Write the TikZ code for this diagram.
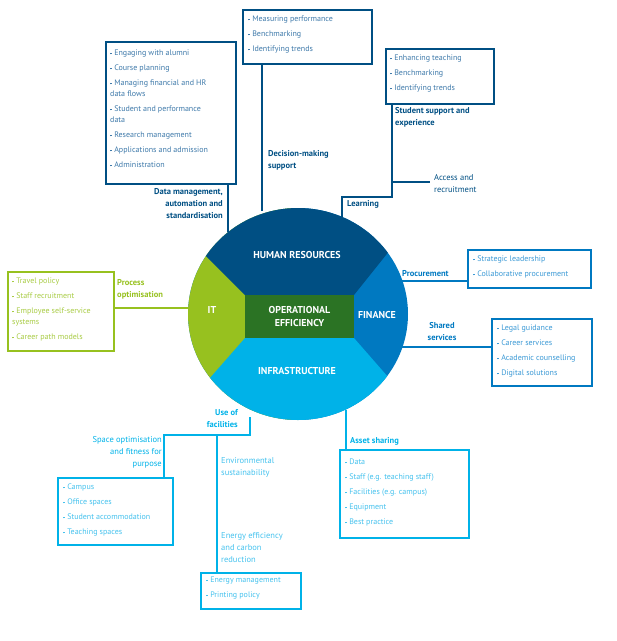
\documentclass[tikz,border=0pt]{standalone}
\usepackage{fontspec}
\setmainfont{PT Sans}
\begin{document}
\definecolor{hr}{HTML}{004F83}
\definecolor{fin}{HTML}{0079C1}
\definecolor{inf}{HTML}{00B2E8}
\definecolor{itg}{HTML}{97C11F}
\definecolor{oe}{HTML}{2B7324}
\definecolor{hrt}{HTML}{3F7AAA}
\definecolor{fint}{HTML}{3C9AD6}
\definecolor{inft}{HTML}{45C2EE}
\definecolor{itt}{HTML}{A9CC45}
\newcommand{\bl}{\rule[1.6pt]{1.6pt}{1.6pt}\hspace{2.5pt}}
\begin{tikzpicture}[x=1pt,y=-1pt,
  box/.style={draw=#1,line width=1.8pt,anchor=north west,inner sep=0pt,fill=white},
  bt/.style={anchor=north west,inner sep=0pt,align=left,font=\fontsize{8}{11}\selectfont},
  lab/.style={inner sep=0pt,font=\fontsize{8.5}{12}\selectfont\bfseries},
  con/.style={draw=#1,line width=1.8pt},
  seg/.style={font=\fontsize{10}{13}\selectfont\bfseries,text=white,inner sep=0pt,align=center}]
\useasboundingbox (0,0) rectangle (617,641);
% circle
\begin{scope}
\clip (298,314) ellipse [x radius=110, y radius=106];
\fill[fin] (150,150) rectangle (450,480);
\fill[itg] (150,150) rectangle (298,480);
\fill[hr] (150,200) -- (245,295) -- (354,295) -- (430,200) -- (430,150) -- (150,150) -- cycle;
\fill[inf] (245,338) -- (354,338) -- (430,425) -- (430,480) -- (150,480) -- (160,435) -- cycle;
\end{scope}
\node[fill=oe,minimum width=109pt,minimum height=43pt,anchor=north west,inner sep=0pt] (oe) at (245,295) {};
\node[seg] (oet) at (299.5,316.5) {OPERATIONAL\\EFFICIENCY};
\node[seg] (hrl) at (297,255) {HUMAN RESOURCES};
\node[seg] (finl) at (377,315) {FINANCE};
\node[seg] (itl) at (212,310) {IT};
\node[seg] (infl) at (297,371) {INFRASTRUCTURE};
% circle contact coordinates
\coordinate (cDM) at (228,232);
\coordinate (cDS) at (262,211);
\coordinate (cL) at (342,218);
\coordinate (cPr) at (392,281);
\coordinate (cSh) at (402,347);
\coordinate (cPO) at (189,308);
\coordinate (cUF) at (250,417);
\coordinate (cAS) at (346,410);
% HR boxes
\node[box=hr,minimum width=130pt,minimum height=142pt] (bDM) at (105,41) {};
\node[bt,text=hrt] (tDM) at (110,50) {\bl Engaging with alumni\\[4pt]\bl Course planning\\[4pt]\bl Managing financial and HR\\data flows\\[4pt]\bl Student and performance\\data\\[4pt]\bl Research management\\[4pt]\bl Applications and admission\\[4pt]\bl Administration};
\node[box=hr,minimum width=129pt,minimum height=54pt] (bDS) at (242,9) {};
\node[bt,text=hrt] (tDS) at (248,16) {\bl Measuring performance\\[4pt]\bl Benchmarking\\[4pt]\bl Identifying trends};
\node[box=hr,minimum width=108pt,minimum height=55pt] (bSS) at (385,48) {};
\node[bt,text=hrt] (tSS) at (390,55) {\bl Enhancing teaching\\[4pt]\bl Benchmarking\\[4pt]\bl Identifying trends};
\draw[con=hr] (bDM.south east -| cDM) -- (cDM);
\draw[con=hr] (bDS.south -| cDS) -- (cDS);
\coordinate (j1) at (392,182);
\coordinate (j2) at (392,197);
\coordinate (j3) at (342,197);
\coordinate (jA) at (430,182);
\draw[con=hr] (bSS.south -| j1) -- (j1) -- (jA);
\draw[con=hr] (j1) -- (j2) -- (j3) -- (cL);
\node[lab,text=hr,align=right,anchor=north east] (lDM) at (223,188) {Data management,\\automation and\\standardisation};
\node[lab,text=hr,align=left,anchor=north west] (lDS) at (268,150) {Decision-making\\support};
\node[lab,text=hr,align=left,anchor=north west] (lSS) at (395,107) {Student support and\\experience};
\node[lab,text=hr,align=left,anchor=north west,font=\fontsize{8.5}{12}\selectfont] (lAR) at (434,174) {Access and\\recruitment};
\node[lab,text=hr,anchor=north west] (lL) at (347,200) {Learning};
% Finance
\node[box=fin,minimum width=123pt,minimum height=38pt] (bPr) at (467,249) {};
\node[bt,text=fint] (tPr) at (473,256) {\bl Strategic leadership\\[4pt]\bl Collaborative procurement};
\node[box=fin,minimum width=100pt,minimum height=67pt] (bSh) at (491,318) {};
\node[bt,text=fint] (tSh) at (497,325) {\bl Legal guidance\\[4pt]\bl Career services\\[4pt]\bl Academic counselling\\[4pt]\bl Digital solutions};
\draw[con=fin] (cPr) -- (bPr.west |- cPr);
\draw[con=fin] (cSh) -- (bSh.west |- cSh);
\node[lab,text=fin,anchor=south west] (lPr) at (402,277) {Procurement};
\node[lab,text=fin,align=center] (lSh) at (442,332) {Shared\\services};
% IT
\node[box=itg,minimum width=106pt,minimum height=79pt] (bPO) at (7,271) {};
\node[bt,text=itt] (tPO) at (12,278) {\bl Travel policy\\[4pt]\bl Staff recruitment\\[4pt]\bl Employee self-service\\systems\\[4pt]\bl Career path models};
\draw[con=itg] (bPO.east |- cPO) -- (cPO);
\node[lab,text=itg,align=left,anchor=north west] (lPO) at (117,279) {Process\\optimisation};
% Infrastructure
\node[box=inf,minimum width=115pt,minimum height=67pt] (bSO) at (57,477) {};
\node[bt,text=inft] (tSO) at (63,484) {\bl Campus\\[4pt]\bl Office spaces\\[4pt]\bl Student accommodation\\[4pt]\bl Teaching spaces};
\node[box=inf,minimum width=100pt,minimum height=36pt] (bEN) at (200,572) {};
\node[bt,text=inft] (tEN) at (206,577) {\bl Energy management\\[4pt]\bl Printing policy};
\node[box=inf,minimum width=129pt,minimum height=88pt] (bAS) at (339,449) {};
\node[bt,text=inft] (tAS) at (345,459) {\bl Data\\[4pt]\bl Staff (e.g. teaching staff)\\[4pt]\bl Facilities (e.g. campus)\\[4pt]\bl Equipment\\[4pt]\bl Best practice};
\coordinate (u1) at (250,435);
\coordinate (u2) at (164,435);
\coordinate (u3) at (217,435);
\draw[con=inf] (cUF) -- (u1) -- (u2) -- (bSO.north -| u2);
\draw[con=inf] (u3) -- (bEN.north -| u3);
\draw[con=inf] (cAS) -- (bAS.north -| cAS);
\node[lab,text=inf,align=right,anchor=north east] (lUF) at (238,409) {Use of\\facilities};
\node[lab,text=inf,align=right,anchor=north east,font=\fontsize{8.5}{12}\selectfont] (lSO) at (162,436) {Space optimisation\\and fitness for\\purpose};
\node[lab,text=inf,anchor=south west] (lAS) at (350,445) {Asset sharing};
\node[bt,text=inft,font=\fontsize{8.5}{12}\selectfont] (lES) at (221,457) {Environmental\\sustainability};
\node[bt,text=inft,font=\fontsize{8.5}{12}\selectfont] (lEE) at (221,532) {Energy efficiency\\and carbon\\reduction};
\end{tikzpicture}
\end{document}
